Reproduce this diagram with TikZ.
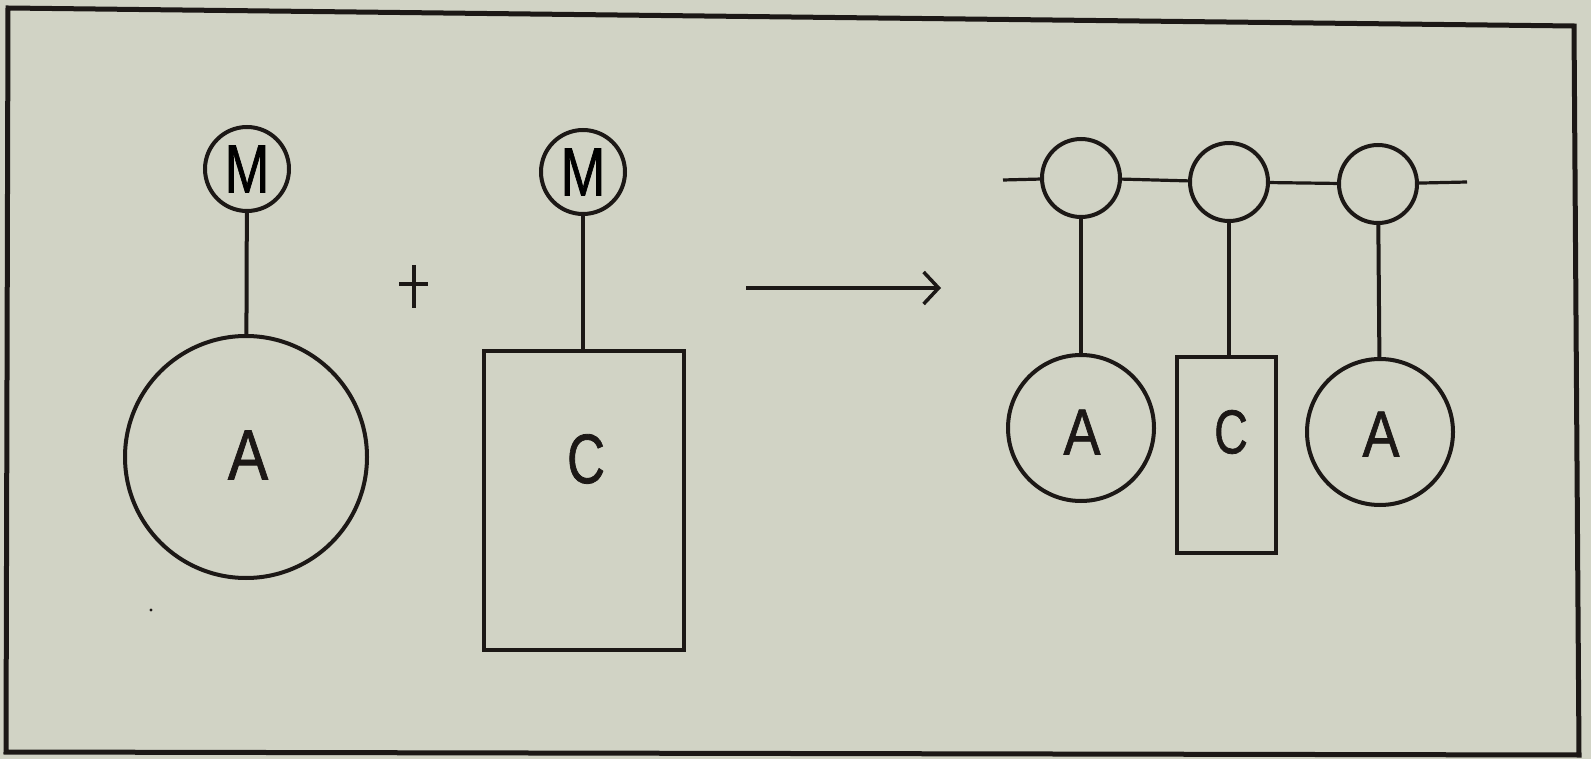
\documentclass[tikz,border=0pt]{standalone}
\usepackage{fontspec}
\usepackage{graphicx}
\setmainfont{Liberation Sans}[FakeBold=1.2]
\usetikzlibrary{arrows.meta}
\definecolor{bgc}{RGB}{209,211,197}
\definecolor{inkc}{RGB}{28,24,22}
\tikzset{
  ink/.style={draw=inkc, line width=4pt},
  chainline/.style={draw=inkc, line width=3.2pt},
  mnode/.style={circle, ink, minimum size=84pt, inner sep=0pt, font=\fontsize{68}{68}\selectfont},
  bigcirc/.style={circle, ink, minimum size=242pt, inner sep=0pt},
  smallring/.style={circle, ink, minimum size=78pt, inner sep=0pt},
  midcirc/.style={circle, ink, minimum size=146pt, inner sep=0pt},
  box/.style={rectangle, ink, inner sep=0pt},
  lab/.style={inner sep=0pt, text=inkc},
}
\begin{document}
\begin{tikzpicture}[x=1pt,y=-1pt]
  \fill[bgc] (0,0) rectangle (1591,759);
  \useasboundingbox (0,0) rectangle (1591,759);
  % frame
  \draw[draw=inkc, line width=5pt, line join=miter] (8,8) -- (1574,26) -- (1579,755) -- (6,752) -- cycle;

  % left: M + A
  \node[mnode] (m1) at (247,169) {\scalebox{0.79}[1]{M}};
  \node[bigcirc] (a1) at (246,457) {};
  \node[lab, font=\fontsize{71}{71}\selectfont] (a1t) at (248,455) {\scalebox{0.85}[1]{A}};
  \draw[ink] (m1) -- (a1);

  % plus sign
  \draw[draw=inkc, line width=3.5pt] (399,284) -- (428,284);
  \draw[draw=inkc, line width=4.5pt] (414,265) -- (414,308);

  % middle: M + C
  \node[mnode] (m2) at (583,172) {\scalebox{0.79}[1]{M}};
  \node[box, minimum width=200pt, minimum height=299pt] (r1) at (584,500.5) {};
  \node[lab, font=\fontsize{70}{70}\selectfont] (c1t) at (586,459) {\scalebox{0.75}[1]{C}};
  \draw[ink] (m2) -- (m2 |- r1.north);

  % reaction arrow
  \coordinate (as) at (746,288);
  \coordinate (ae) at (941,288);
  \draw[draw=inkc, line width=3.5pt, -{Straight Barb[length=15pt,width=32pt]}] (as) -- (ae);

  % right: chain
  \node[smallring] (k1) at (1081,178) {};
  \node[smallring] (k2) at (1229,182) {};
  \node[smallring] (k3) at (1378,184) {};
  \coordinate (cl) at (1003,180);
  \coordinate (cr) at (1467,182);
  \draw[chainline] (cl) -- (k1) (k1) -- (k2) (k2) -- (k3) (k3) -- (cr);

  \node[midcirc] (ra1) at (1081,428) {};
  \node[lab, font=\fontsize{65}{65}\selectfont] (ra1t) at (1082,432) {\scalebox{0.85}[1]{A}};
  \node[box, minimum width=99pt, minimum height=196pt] (rr) at (1226.5,455) {};
  \node[lab, font=\fontsize{62}{62}\selectfont] (rrt) at (1231,432) {\scalebox{0.75}[1]{C}};
  \node[midcirc] (ra2) at (1380,432) {};
  \node[lab, font=\fontsize{65}{65}\selectfont] (ra2t) at (1381,434) {\scalebox{0.85}[1]{A}};

  \draw[ink] (k1) -- (ra1);
  \draw[ink] (k2) -- (k2 |- rr.north);
  \draw[ink] (k3) -- (ra2);

  % speck
  \fill[inkc] (151,610) circle (1.6pt);
\end{tikzpicture}
\end{document}
